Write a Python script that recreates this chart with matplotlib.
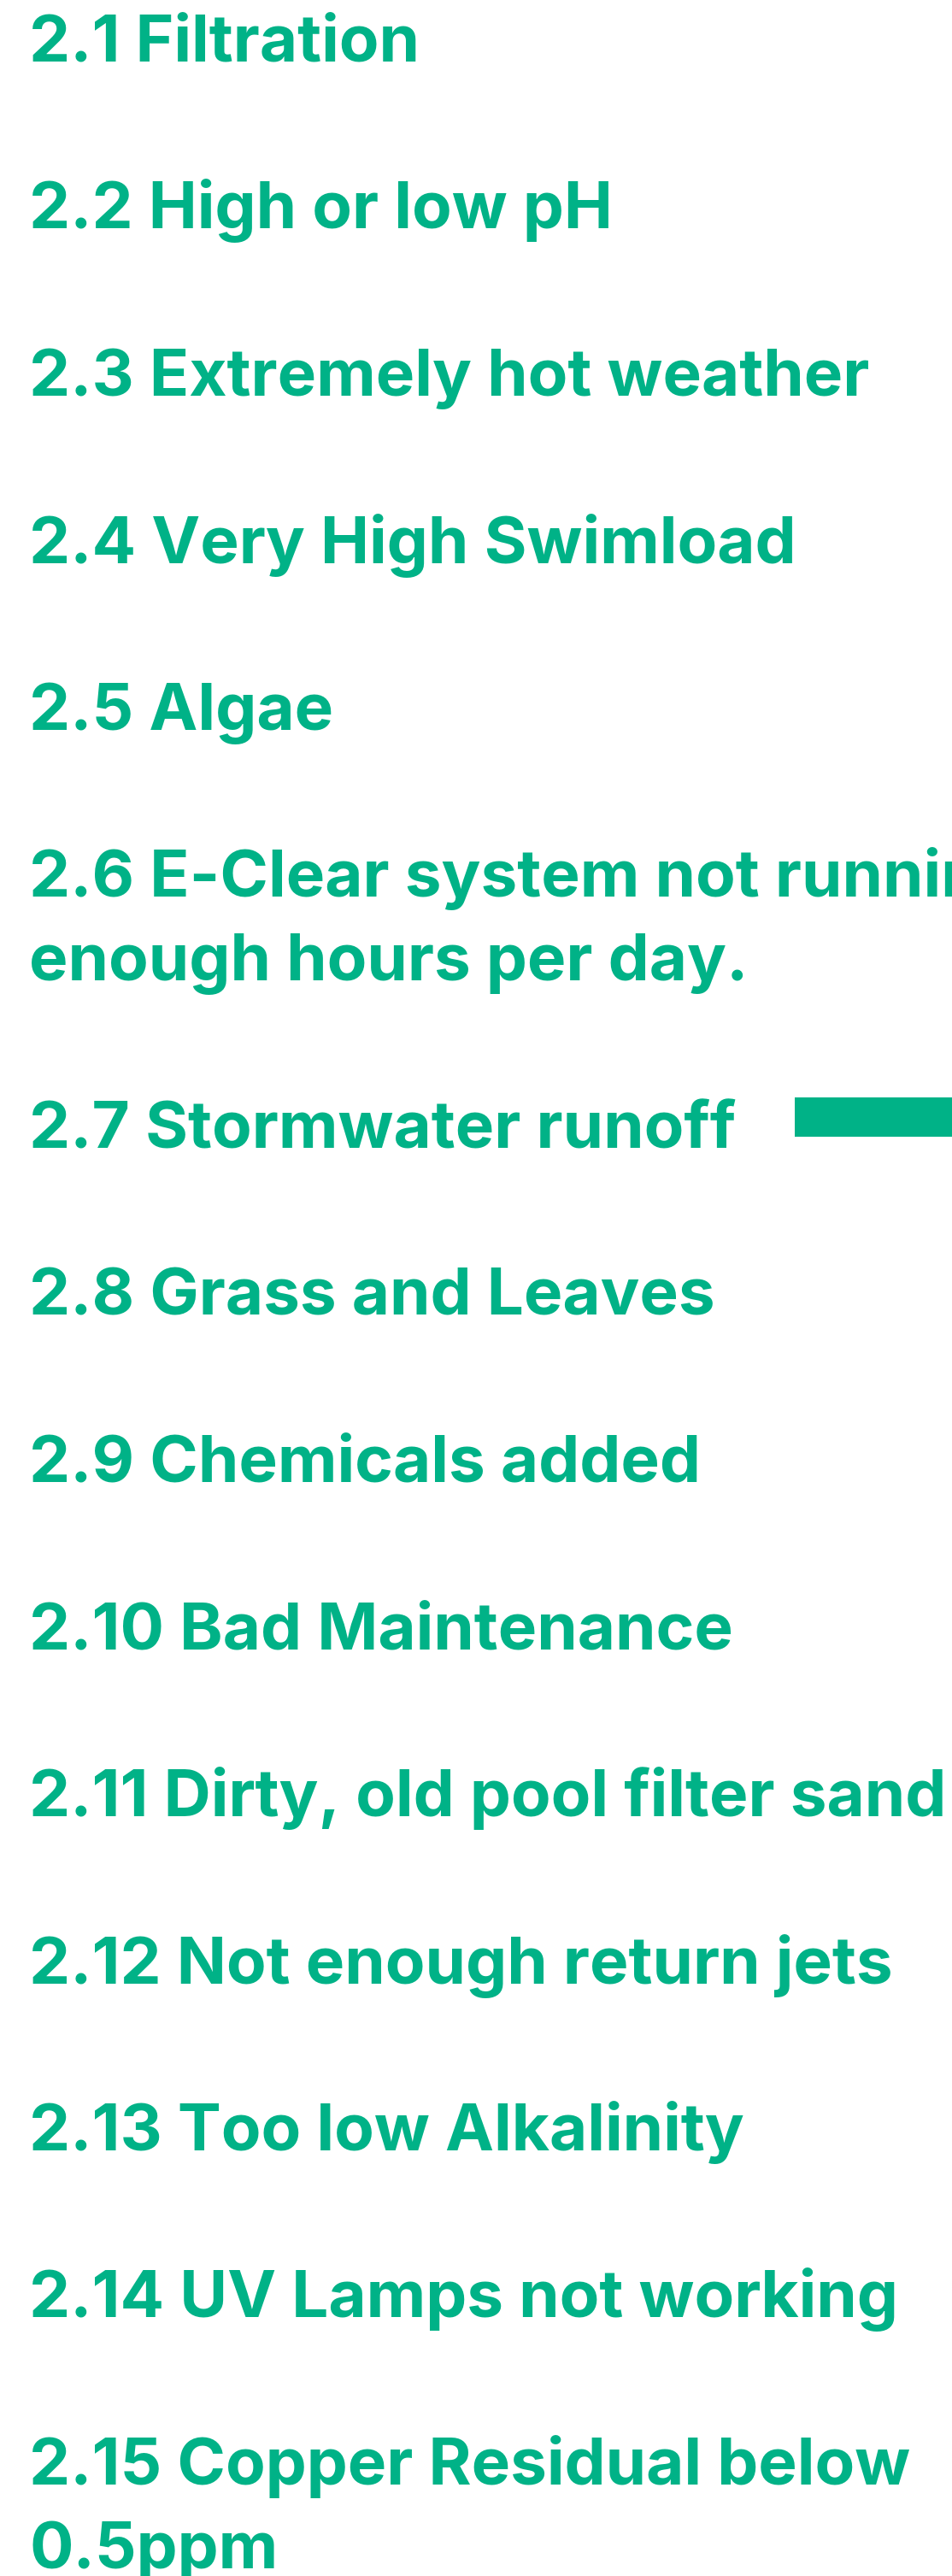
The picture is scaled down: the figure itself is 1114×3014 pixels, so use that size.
import matplotlib
matplotlib.use('Agg')
import matplotlib.pyplot as plt

# items as shown, wrapped lines kept as in the picture
labels = ['2.1 Filtration',
          '2.2 High or low pH',
          '2.3 Extremely hot weather',
          '2.4 Very High Swimload',
          '2.5 Algae',
          '2.6 E-Clear system not running\nenough hours per day.',
          '2.7 Stormwater runoff',
          '2.8 Grass and Leaves',
          '2.9 Chemicals added',
          '2.10 Bad Maintenance',
          '2.11 Dirty, old pool filter sand',
          '2.12 Not enough return jets',
          '2.13 Too low Alkalinity',
          '2.14 UV Lamps not working',
          '2.15 Copper Residual below\n0.5ppm']
bar_values = [0, 0, 0, 0, 0, 0, 1, 0, 0, 0, 0, 0, 0, 0, 0]

green = '#00b287'
W, H = 1114, 3014
row_step = 195.5
wrap_step = 98
top = 46

fig = plt.figure(figsize=(W / 100, H / 100), dpi=100, facecolor='white')
ax = fig.add_axes([0, 0, 1, 1])
ax.set_xlim(0, W)
ax.set_ylim(H, 0)
ax.axis('off')

# row centres follow from the order and the number of wrapped lines
rows = []
y = top
for lab in labels:
    rows.append(y)
    y += row_step + wrap_step * lab.count('\n')

for lab, yc in zip(labels, rows):
    for k, line in enumerate(lab.split('\n')):
        ax.text(34, yc + 26 + k * wrap_step, line, color=green,
                fontsize=55, fontweight='bold', family='Inter',
                va='baseline', ha='left')

# bar panel on the right, sits a little above the text centre
x0 = 930 / W
ax2 = fig.add_axes([x0, 0, 1 - x0, 1])
ax2.set_ylim(H + 10, 10)
ax2.set_xlim(0, 1)
ax2.axis('off')
ax2.barh(rows, bar_values, height=46, color=green)
ax2.patch.set_alpha(0)

fig.savefig('out.png', dpi=100, facecolor='white')
